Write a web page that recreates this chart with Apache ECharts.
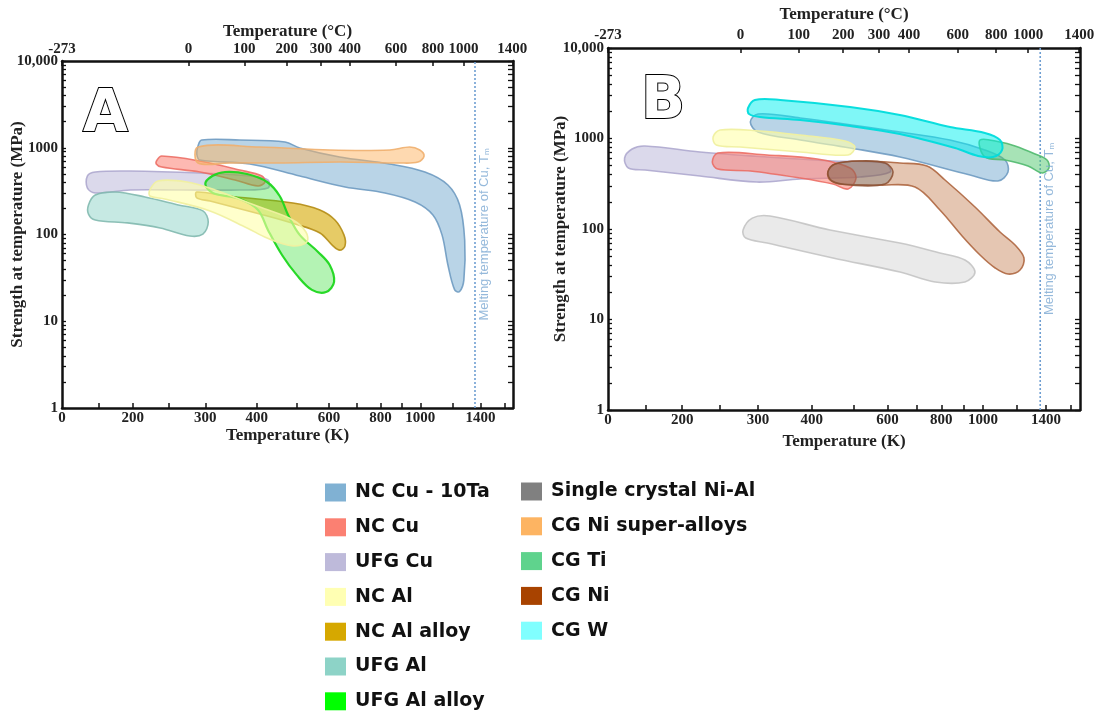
<!DOCTYPE html>
<html><head><meta charset="utf-8">
<script src="https://cdn.jsdelivr.net/npm/echarts@6/dist/echarts.min.js"></script>
<style>html,body{margin:0;padding:0;background:#fff}#c{width:1101px;height:711px}</style>
</head><body><div id="c"></div>
<script>
// ---- axis data ----
const xMin = 134.5, xMax = 1680;
const kelvinLabels = [134.5, 200, 300, 400, 600, 800, 1000, 1400];
const kelvinTicks = [165, 200, 245, 300, 400, 500, 600, 700, 800, 900, 1000, 1200, 1400, 1600];
const celsiusLabels = [-273, 0, 100, 200, 300, 400, 600, 800, 1000, 1400];
const strengthLabels = [1, 10, 100, 1000, 10000];
const meltingCu = 1358;          // K
const meltingLabelAt = 100;      // MPa (label centre)

// ---- Panel A outlines: [Temperature (K), Strength (MPa)] ----
const A_NCCu10Ta = [[288,1047],[294,1228],[364,1228],[469,1165],[509,993],[637,782],[843,650],[1026,525],[1167,372],[1246,219],[1282,86],[1276,30],[1246,22],[1212,23],[1167,44.5],[1129,99],[1073,168],[971,237],[820,301],[656,353],[509,472],[385,650],[291,722],[286,847]];
const A_CGNiSuper = [[288,1020],[407,1020],[602,942],[843,942],[942,1020],[997,942],[1021,803],[987,685],[891,667],[637,685],[455,667],[344,667],[288,667]];
const A_NCCu = [[229,722],[235,803],[291,703],[364,554],[412,472],[419,403],[403,362],[354,425],[291,525],[235,600],[228,650]];
const A_UFGCu = [[155,472],[162,525],[197,539],[291,511],[385,472],[426,425],[426,344],[364,326],[260,326],[197,326],[162,301],[155,344]];
const A_UFGAl = [[156,219],[162,285],[181,309],[214,271],[258,219],[296,187],[305,139],[296,101],[275,96],[233,119],[194,136],[162,147],[156,172]];
const A_NCAl = [[220,326],[230,414],[271,403],[317,326],[407,207],[490,147],[527,107],[530,82],[490,74],[424,91],[379,119],[308,187],[239,257],[220,278]];
const A_NCAlAlloy = [[286,309],[339,278],[490,231],[570,192],[620,147],[652,99],[656,74],[637,66],[613,74],[570,104],[496,132],[407,172],[308,243],[286,264]];
const A_UFGAlAlloy = [[300,382],[312,472],[335,525],[379,498],[424,403],[455,278],[477,168],[509,99],[564,63],[602,44.5],[617,28.4],[590,21.7],[545,23],[501,34],[461,58],[426,113],[403,192],[364,257],[313,301]];

// ---- Panel B outlines ----
const B_NiAl = [[277,97.5],[291,132],[320,139],[441,97.5],[641,70],[794,54.3],[908,45.4],[958,33.5],[908,26],[774,26],[641,33.5],[448,47.8],[315,70],[281,79.5]];
const B_UFGCu = [[147,609],[153,766],[164,826],[220,710],[315,625],[448,564],[592,536],[608,426],[518,376],[376,357],[298,330],[220,385],[164,449],[150,472]];
const B_NCCu10Ta = [[288,1521],[300,1866],[376,1686],[641,1180],[838,962],[1010,746],[1125,578],[1143,426],[1083,339],[933,395],[641,625],[491,785],[376,962],[300,1180]];
const B_CGTi = [[984,962],[1095,915],[1187,826],[1321,674],[1408,578],[1423,472],[1372,416],[1272,497],[1125,578],[1010,625]];
const B_CGW = [[284.5,2173],[295,2663],[338,2663],[491,2229],[641,1818],[838,1340],[1010,1151],[1095,962],[1107,746],[1055,625],[974,641],[861,785],[641,1122],[491,1374],[376,1600],[303,1729],[286,1866]];
const B_NCAl = [[236,1039],[245,1241],[303,1211],[376,1093],[478,938],[504,806],[486,657],[376,710],[272.5,806],[240,847]];
const B_NCCu = [[235,550],[242,692],[315,657],[412,593],[491,472],[507,366],[486,277],[448,314],[376,366],[288,438],[242,460]];
const B_CGNi = [[436,426],[453,523],[518,564],[641,536],[741,497],[816,348],[958,175],[1095,92.7],[1187,66.5],[1245,47.8],[1219,35.2],[1143,31.8],[1067,37.1],[984,51.6],[894,83.7],[794,162],[695,291],[576,306],[465,314],[441,348]];
const B_NiAlSmall = [[436,426],[453,523],[518,564],[592,536],[618,426],[592,314],[491,306],[446,339]];

const legendCol1 = ['NC Cu - 10Ta','NC Cu','UFG Cu','NC Al','NC Al alloy','UFG Al','UFG Al alloy'];
const legendCol2 = ['Single crystal Ni-Al','CG Ni super-alloys','CG Ti','CG Ni','CG W'];

// ---- styles ----
const styles = {
  'NC Cu - 10Ta': {legend:'#80B1D3', fill:'rgba(128,177,211,0.55)', stroke:'rgba(105,150,190,0.85)'},
  'NC Cu': {legend:'#FB8072', fill:'rgba(251,128,114,0.55)', stroke:'rgba(235,105,95,0.85)'},
  'UFG Cu': {legend:'#BEBADA', fill:'rgba(190,186,218,0.55)', stroke:'rgba(170,165,205,0.85)'},
  'NC Al': {legend:'#FFFFB3', fill:'rgba(255,255,170,0.6)', stroke:'rgba(240,240,160,0.95)'},
  'NC Al alloy': {legend:'#D6A800', fill:'rgba(214,168,0,0.6)', stroke:'rgba(180,140,20,0.9)'},
  'UFG Al': {legend:'#8DD3C7', fill:'rgba(141,211,199,0.5)', stroke:'rgba(130,185,175,0.9)'},
  'UFG Al alloy': {legend:'#00FF00', fill:'rgba(40,220,40,0.35)', stroke:'rgba(30,215,30,0.95)', lw:2.2},
  'Single crystal Ni-Al': {legend:'#808080', fill:'rgba(150,150,150,0.2)', stroke:'rgba(190,190,190,0.8)'},
  'CG Ni super-alloys': {legend:'#FDB462', fill:'rgba(253,180,98,0.5)', stroke:'rgba(240,175,110,0.9)'},
  'CG Ti': {legend:'#5FD38D', fill:'rgba(80,200,110,0.5)', stroke:'rgba(80,185,110,0.9)'},
  'CG Ni': {legend:'#A84300', fill:'rgba(168,67,0,0.3)', stroke:'rgba(170,95,55,0.85)'},
  'CG W': {legend:'#80FFFF', fill:'rgba(0,240,240,0.5)', stroke:'rgba(0,220,220,0.95)', lw:2}
};
const smallNiAlStyle = {fill:'rgba(110,110,110,0.35)', stroke:'rgba(140,80,50,0.85)'};

function blob(name, pts, panel, override) {
  const st = Object.assign({}, styles[name], override || {});
  return {
    type: 'custom', name, xAxisIndex: panel * 2, yAxisIndex: panel * 2,
    coordinateSystem: 'cartesian2d', data: pts, encode: {x: 0, y: 1},
    itemStyle: {color: styles[name].legend}, silent: true, clip: true,
    renderItem(params, api) {
      if (params.dataIndex !== 0) return null;
      return {type: 'polygon', shape: {points: pts.map(p => api.coord(p)), smooth: 0.35},
        style: {fill: st.fill, stroke: st.stroke, lineWidth: st.lw || 1.6}};
    }
  };
}

function meltSeries(panel) {
  return [{
    type: 'line', name: 'melt' + panel, xAxisIndex: panel * 2, yAxisIndex: panel * 2,
    data: [[meltingCu, 1], [meltingCu, 10000]], showSymbol: false, silent: true,
    lineStyle: {type: [2, 2], color: '#6f9fd2', width: 1.6}, z: 1
  }, {
    type: 'scatter', name: 'meltLabel' + panel, xAxisIndex: panel * 2, yAxisIndex: panel * 2,
    data: [[meltingCu, meltingLabelAt]], symbolSize: 1, itemStyle: {color: 'rgba(0,0,0,0)'}, silent: true,
    label: {show: true, position: 'inside', rotate: 90, offset: [0, 9],
      formatter: 'Melting temperature of Cu, T{s|m}',
      color: '#7aa8d2', fontSize: 13, fontFamily: 'Liberation Sans',
      rich: {s: {fontSize: 8, color: '#7aa8d2', padding: [6, 0, 0, 0]}}}
  }];
}

const serif = 'Liberation Serif';
const lab = {fontFamily: serif, fontWeight: 'bold', fontSize: 15, color: '#222'};
const nameStyle = {fontFamily: serif, fontWeight: 'bold', fontSize: 17, color: '#222'};
const yTicks = [];
[1, 10, 100, 1000].forEach(d => { for (let k = 1; k < 10; k++) yTicks.push(d * k); });
yTicks.push(10000);
const topLabelK = celsiusLabels.map(c => c === -273 ? xMin : c + 273.15);

function xAxes(gi, labelMarginTop, nameGapTop) {
  const line = {show: true, onZero: false, lineStyle: {color: '#111', width: 2.5}};
  return [{
    type: 'log', gridIndex: gi, position: 'bottom', min: xMin, max: xMax,
    axisLine: line, splitLine: {show: false},
    axisTick: {inside: true, length: 5, lineStyle: {color: '#111', width: 1.5}, customValues: kelvinTicks},
    axisLabel: Object.assign({customValues: kelvinLabels, margin: 3,
      formatter: v => (v <= xMin + 0.01 ? '0' : String(Math.round(v)))}, lab),
    name: 'Temperature (K)', nameLocation: 'middle', nameGap: 19, nameTextStyle: nameStyle
  }, {
    type: 'log', gridIndex: gi, position: 'top', min: xMin, max: xMax,
    axisLine: line, splitLine: {show: false},
    axisTick: {inside: true, length: 5, lineStyle: {color: '#111', width: 1.5}, customValues: topLabelK},
    axisLabel: Object.assign({customValues: topLabelK, margin: labelMarginTop,
      formatter: v => (v <= xMin + 0.01 ? '-273' : String(Math.round(v - 273.15)))}, lab),
    name: 'Temperature (°C)', nameLocation: 'middle', nameGap: nameGapTop, nameTextStyle: nameStyle
  }];
}
function yAxes(gi, nameGap) {
  const line = {show: true, onZero: false, lineStyle: {color: '#111', width: 2.5}};
  return [{
    type: 'log', gridIndex: gi, position: 'left', min: 1, max: 10000,
    axisLine: line, splitLine: {show: false},
    axisTick: {inside: true, length: 4, lineStyle: {color: '#111', width: 1.3}, customValues: yTicks},
    axisLabel: Object.assign({customValues: strengthLabels, margin: 4,
      formatter: v => (v === 10000 ? '10,000' : String(v))}, lab),
    name: 'Strength at temperature (MPa)', nameLocation: 'middle', nameGap: nameGap,
    nameMoveOverlap: false, nameTextStyle: nameStyle
  }, {
    type: 'log', gridIndex: gi, position: 'right', min: 1, max: 10000,
    axisLine: line, splitLine: {show: false},
    axisTick: {inside: true, length: 5, lineStyle: {color: '#111', width: 1.3}, customValues: yTicks},
    axisLabel: {show: false}
  }];
}

const legendBase = {
  orient: 'vertical', icon: 'rect', itemWidth: 21, itemHeight: 18, itemGap: 15.8,
  padding: 0, height: 260,
  selectedMode: false, itemStyle: {borderWidth: 0},
  textStyle: {fontFamily: 'DejaVu Sans', fontWeight: 'bold', fontSize: 19, color: '#111', lineHeight: 18, padding: [0, 0, 0, 4]}
};

const option = {
  animation: false,
  backgroundColor: '#fff',
  grid: [
    {left: 62, top: 61, width: 451, height: 347, outerBoundsMode: 'none', containLabel: false},
    {left: 608, top: 48, width: 472, height: 362, outerBoundsMode: 'none', containLabel: false}
  ],
  xAxis: [...xAxes(0, 4, 21), ...xAxes(1, 5, 19)],
  yAxis: [...yAxes(0, 36), ...yAxes(1, 39)],
  legend: [
    Object.assign({data: legendCol1, left: 325, top: 483}, legendBase),
    Object.assign({data: legendCol2, left: 521, top: 482}, legendBase)
  ],
  graphic: [
    {type: 'text', left: 82, top: 86, style: {text: 'A', font: 'bold 58px "DejaVu Sans"', fill: '#fff', stroke: '#000', lineWidth: 2}},
    {type: 'text', left: 640, top: 73, style: {text: 'B', font: 'bold 58px "DejaVu Sans"', fill: '#fff', stroke: '#000', lineWidth: 2}}
  ],
  series: [
    ...meltSeries(0), ...meltSeries(1),
    blob('UFG Cu', A_UFGCu, 0),
    blob('UFG Al', A_UFGAl, 0),
    blob('NC Cu', A_NCCu, 0),
    blob('NC Cu - 10Ta', A_NCCu10Ta, 0),
    blob('CG Ni super-alloys', A_CGNiSuper, 0),
    blob('NC Al alloy', A_NCAlAlloy, 0),
    blob('UFG Al alloy', A_UFGAlAlloy, 0),
    blob('NC Al', A_NCAl, 0),
    blob('Single crystal Ni-Al', B_NiAl, 1),
    blob('UFG Cu', B_UFGCu, 1),
    blob('NC Cu - 10Ta', B_NCCu10Ta, 1),
    blob('CG Ti', B_CGTi, 1),
    blob('CG W', B_CGW, 1),
    blob('NC Al', B_NCAl, 1),
    blob('NC Cu', B_NCCu, 1),
    blob('CG Ni', B_CGNi, 1),
    blob('Single crystal Ni-Al', B_NiAlSmall, 1, smallNiAlStyle)
  ]
};
const chart = echarts.init(document.getElementById('c'), null, {renderer: 'canvas'});
chart.setOption(option);
</script></body></html>
